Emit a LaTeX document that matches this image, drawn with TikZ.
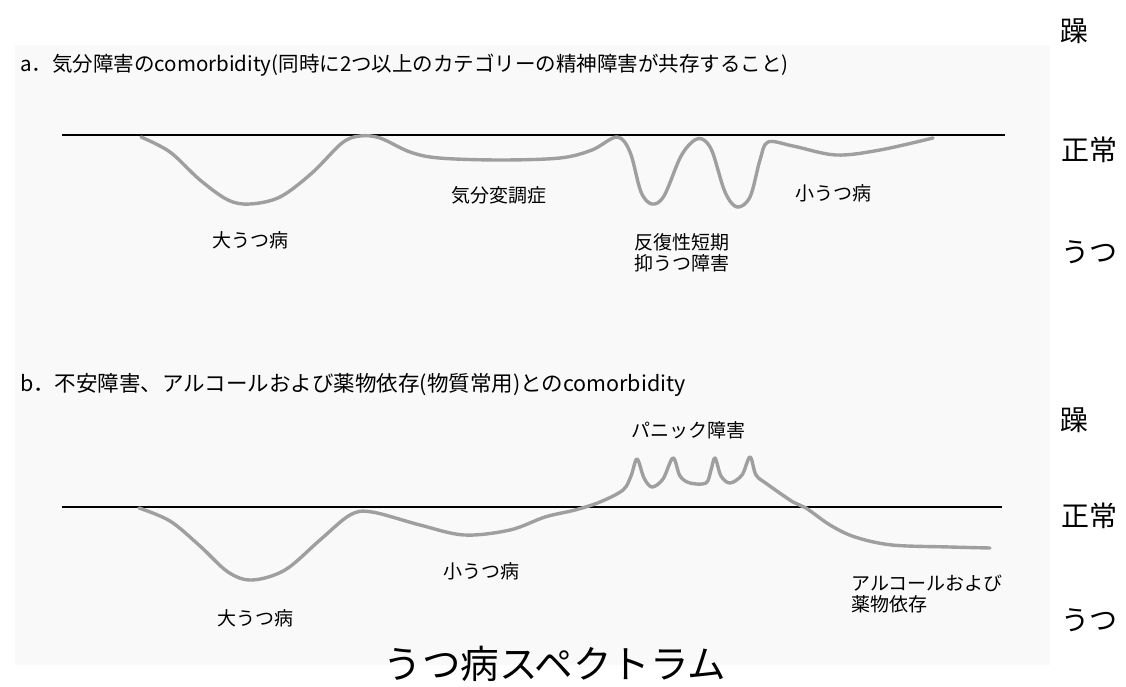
\documentclass[tikz,border=0pt]{standalone}
\usepackage{fontspec}
\newfontfamily\jp{Noto Sans CJK JP}
\begin{document}
\begin{tikzpicture}[x=1pt,y=-1pt,
  lbl/.style={font=\jp\fontsize{19}{21}\selectfont, inner sep=1pt},
  side/.style={font=\jp\fontsize{28}{30}\selectfont, inner sep=0pt},
  title/.style={font=\jp\fontsize{20.5}{22}\selectfont, anchor=west, inner sep=0pt},
  axis/.style={line width=1.3pt, black},
  curve/.style={line width=3.4pt, gray!75, line cap=round, line join=round}]
\useasboundingbox (0,0) rectangle (1126,687);
\fill[gray!5] (15,45) rectangle (1050,665);
% titles
\node[title] (ta) at (20,65) {a．気分障害のcomorbidity(同時に2つ以上のカテゴリーの精神障害が共存すること)};
\node[title, font=\jp\fontsize{21.5}{23}\selectfont] (tb) at (20,385) {b．不安障害、アルコールおよび薬物依存(物質常用)とのcomorbidity};
% axis lines
\coordinate (a0) at (62,135); \coordinate (a1) at (1005,135);
\coordinate (b0) at (62,507); \coordinate (b1) at (1002,507);
\draw[axis] (a0) -- (a1);
\draw[axis] (b0) -- (b1);
% curve a
\draw[curve] plot[smooth, tension=0.55] coordinates {
 (141,137) (170,152) (200,180) (228,200) (250,204) (280,197) (312,173) (342,143) (360,136) (380,138)
 (410,152) (439,158) (500,160) (560,158) (592,150) (617,137) (630,152) (641,192) (652,204) (664,196)
 (680,158) (692,142) (702,139) (712,151) (725,192) (737,207) (750,197) (760,160) (768,142) (793,146)
 (836,155) (880,150) (933,138)};
% curve b
\draw[curve] plot[smooth, tension=0.55] coordinates {
 (139,508) (170,521) (200,546) (228,572) (252,580) (285,570) (320,540) (350,515) (372,512) (420,525)
 (464,535) (510,530) (545,517) (575,510) (600,502) (623,490) (631,476) (637,459) (644,478) (652,487)
 (663,479) (673,458) (680,476) (690,483) (706,483) (711,470) (715,458) (721,476) (730,483) (742,475)
 (750,457) (756,475) (767,484) (793,502) (806,508) (830,525) (855,537) (892,545) (950,547) (990,548)};
% labels a
\node[lbl] (la1) at (250,240) {大うつ病};
\node[lbl] (la2) at (499,195) {気分変調症};
\node[lbl, align=left] (la3) at (682,253) {反復性短期\\抑うつ障害};
\node[lbl] (la4) at (833,193) {小うつ病};
% labels b
\node[lbl] (lb0) at (688,430) {パニック障害};
\node[lbl] (lb1) at (255,618) {大うつ病};
\node[lbl] (lb2) at (481,571) {小うつ病};
\node[lbl, align=left, anchor=west] (lb3) at (850,594) {アルコールおよび\\薬物依存};
% side labels
\node[side] (s1) at (1074,31) {躁};
\node[side] (s2) at (1089,150) {正常};
\node[side] (s3) at (1089,252) {うつ};
\node[side] (s4) at (1074,420) {躁};
\node[side] (s5) at (1089,516) {正常};
\node[side] (s6) at (1089,620) {うつ};
% bottom title
\node[font=\jp\fontsize{38.5}{40}\selectfont, inner sep=0pt] (bt) at (555,664) {うつ病スペクトラム};
\end{tikzpicture}
\end{document}
